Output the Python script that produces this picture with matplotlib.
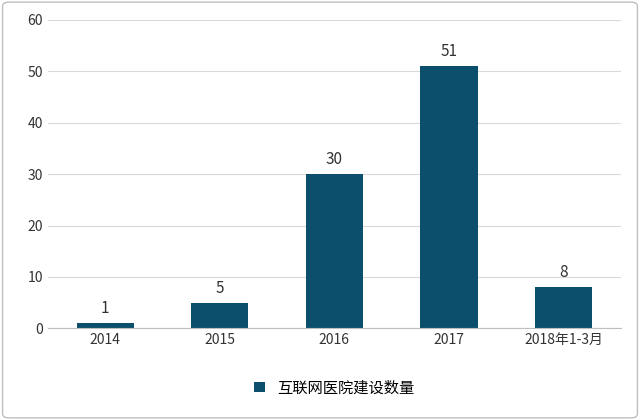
import matplotlib
matplotlib.use("Agg")
import matplotlib.pyplot as plt
from matplotlib.patches import FancyBboxPatch

plt.rcParams['font.family'] = ['Noto Sans CJK SC', 'DejaVu Sans']

categories = ["2014", "2015", "2016", "2017", "2018年1-3月"]
values = [1, 5, 30, 51, 8]
yticks = [0, 10, 20, 30, 40, 50, 60]
color = "#0b4f6c"

fig = plt.figure(figsize=(6.4, 4.2), dpi=100)
ax = fig.add_axes([0.075, 0.218, 0.895, 0.735])
x = range(len(categories))
bars = ax.bar(x, values, width=0.5, color=color, label="互联网医院建设数量")
for xi, v in zip(x, values):
    ax.text(xi, v + 1.2, str(v), ha="center", va="bottom", fontsize=11, color="#333333")
ax.set_ylim(0, 60)
ax.set_yticks(yticks)
ax.set_xlim(-0.5, len(categories) - 0.5)
ax.set_xticks(list(x))
ax.set_xticklabels(categories)
ax.tick_params(axis="both", length=0, labelsize=10, colors="#333333")
ax.yaxis.grid(True, color="#d9d9d9", linewidth=0.8)
ax.set_axisbelow(True)
for s in ["top", "right", "left"]:
    ax.spines[s].set_visible(False)
ax.spines["bottom"].set_color("#bfbfbf")
leg = ax.legend(loc="upper center", bbox_to_anchor=(0.5, -0.12), frameon=False,
                fontsize=11, handlelength=0.7, handleheight=0.7)
fig.patches.append(FancyBboxPatch((0.004, 0.005), 0.992, 0.99, boxstyle="round,pad=0,rounding_size=0.01",
                                  transform=fig.transFigure, fill=False, edgecolor="#bfbfbf", linewidth=1))
fig.savefig("out.png", dpi=100)
